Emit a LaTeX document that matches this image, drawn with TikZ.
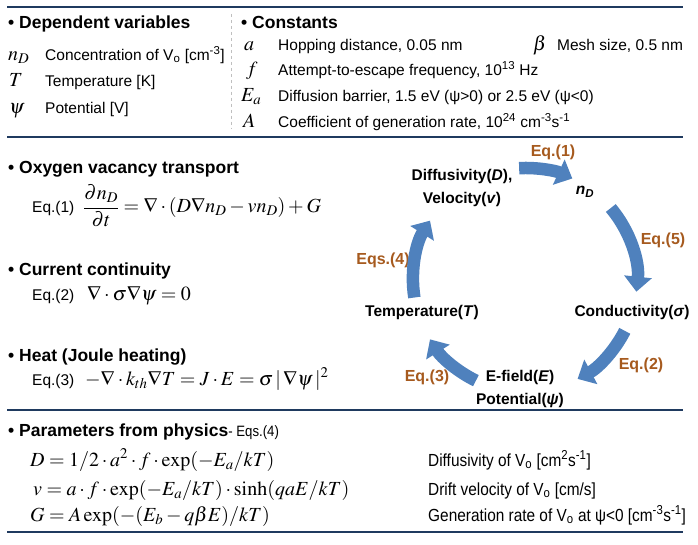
\documentclass[tikz,border=0pt]{standalone}
\usepackage{mathptmx}
\usepackage[no-math]{fontspec}
\setmainfont{Liberation Sans}
\newfontfamily\narrowfont[FakeStretch=0.88]{Liberation Sans}
\usetikzlibrary{arrows.meta}
\definecolor{rulenavy}{HTML}{1F3A5F}
\definecolor{cycleblue}{HTML}{4F81BD}
\definecolor{eqorange}{HTML}{A65A1E}
\definecolor{dashgray}{HTML}{BFBFBF}
\tikzset{
  sechead/.style={anchor=base west, inner sep=0, font=\fontsize{17.5bp}{20bp}\selectfont\bfseries},
  txt/.style={anchor=base west, inner sep=0, font=\fontsize{15.5bp}{18bp}\selectfont},
  mth/.style={anchor=base west, inner sep=0, font=\fontsize{20bp}{22bp}\selectfont},
  nartxt/.style={anchor=base west, inner sep=0, font=\fontsize{17.5bp}{20bp}\selectfont\narrowfont},
  qty/.style={align=center, inner sep=0, font=\fontsize{15.5bp}{23bp}\selectfont\bfseries},
  eqlabel/.style={inner sep=0, text=eqorange, font=\fontsize{16bp}{18bp}\selectfont\bfseries},
  loop arrow/.style={cycleblue, line width=12.5bp, -{Triangle[length=15bp,width=27bp]}},
  hrule/.style={rulenavy, line width=2bp},
}
\begin{document}
\begin{tikzpicture}[x=1bp, y=-1bp]
\useasboundingbox (0,0) rectangle (698,545);

\draw[hrule] (7,7) -- (683,7);
\draw[hrule] (7,137) -- (683,137);
\draw[hrule] (7,410) -- (683,410);
\draw[hrule] (7,532) -- (683,532);
\draw[dashgray, dashed, line width=1bp] (231,14) -- (231,128);

\node[sechead] (depvars) at (8,29) {• Dependent variables};
\node[mth] (nDsym) at (8,60.5) {$n_D$};
\node[txt] (nDtxt) at (45,60.5) {Concentration of V\textsubscript{o} [cm\textsuperscript{-3}]};
\node[mth] (Tsym) at (9,86.5) {$T$};
\node[txt] (Ttxt) at (45,86.5) {Temperature [K]};
\node[mth] (psisym) at (9,113.5) {$\psi$};
\node[txt] (psitxt) at (45,113.5) {Potential [V]};

\node[sechead] (consts) at (241,29) {• Constants};
\node[mth] (asym) at (244,50.5) {$a$};
\node[txt] (atxt) at (278,50.5) {Hopping distance, 0.05 nm};
\node[mth] (betasym) at (533,50.5) {$\beta$};
\node[txt] (betatxt) at (557,50.5) {Mesh size, 0.5 nm};
\node[mth] (fsym) at (246,75.5) {$f$};
\node[txt] (ftxt) at (278,75.5) {Attempt-to-escape frequency, 10\textsuperscript{13} Hz};
\node[mth] (Easym) at (241,101.5) {$E_a$};
\node[txt] (Eatxt) at (278,101.5) {Diffusion barrier, 1.5 eV (ψ>0) or 2.5 eV (ψ<0)};
\node[mth] (Asym) at (243,127.5) {$A$};
\node[txt] (Atxt) at (278,127.5) {Coefficient of generation rate, 10\textsuperscript{24} cm\textsuperscript{-3}s\textsuperscript{-1}};

\node[sechead] (transp) at (8,174) {• Oxygen vacancy transport};
\node[txt] (eq1lbl) at (32,213) {Eq.(1)};
\node[mth] (eq1) at (83,213) {$\displaystyle\frac{\partial n_D}{\partial t}=\nabla\cdot(D\nabla n_D-vn_D)+G$};
\node[sechead] (contin) at (8,276) {• Current continuity};
\node[txt] (eq2lbl) at (32,300) {Eq.(2)};
\node[mth] (eq2) at (87,300) {$\nabla\cdot\sigma\nabla\psi=0$};
\node[sechead] (heat) at (8,361) {• Heat (Joule heating)};
\node[txt] (eq3lbl) at (32,385) {Eq.(3)};
\node[mth] (eq3) at (85,385) {$-\nabla\cdot k_{th}\nabla T=J\cdot E=\sigma\,|\,\nabla\psi\,|^2$};

\node[sechead] (params) at (8,436) {• Parameters from physics{\mdseries\narrowfont\fontsize{15bp}{18bp}\selectfont- Eqs.(4)}};
\node[mth] (Deq) at (30,466) {$D=1/2\cdot a^2\cdot f\cdot\exp(-E_a/kT)$};
\node[mth] (veq) at (33,495) {$v=a\cdot f\cdot\exp(-E_a/kT)\cdot\sinh(qaE/kT)$};
\node[mth] (Geq) at (30,521) {$G=A\exp(-(E_b-q\beta E)/kT)$};
\node[nartxt] (Dtxt) at (428,466) {Diffusivity of V\textsubscript{o} [cm\textsuperscript{2}s\textsuperscript{-1}]};
\node[nartxt] (vtxt) at (428,495) {Drift velocity of V\textsubscript{o} [cm/s]};
\node[nartxt] (Gtxt) at (428,521) {Generation rate of V\textsubscript{o} at ψ<0 [cm\textsuperscript{-3}s\textsuperscript{-1}]};

\node[qty] (diffu) at (462,188) {Diffusivity(\textit{D}),\\Velocity(\textit{v})};
\node[qty] (nD) at (585,192) {\textit{n}\textsubscript{\textit{D}}};
\node[qty] (cond) at (632,312) {Conductivity(\textit{σ})};
\node[qty] (efield) at (520,389) {E-field(\textit{E})\\Potential(\textit{ψ})};
\node[qty] (temp) at (422,312) {Temperature(\textit{T})};

\node[eqlabel] (lbl1) at (553,152) {Eq.(1)};
\node[eqlabel] (lbl5) at (663,240) {Eq.(5)};
\node[eqlabel] (lbl2) at (641,365) {Eq.(2)};
\node[eqlabel] (lbl3) at (427,377) {Eq.(3)};
\node[eqlabel] (lbl4) at (383,260) {Eqs.(4)};

\coordinate (hub) at (525,280);
\path (hub) ++(-93:112) coordinate (a1);
\path (hub) ++(-40:112) coordinate (a5);
\path (hub) ++(27:112) coordinate (a2);
\path (hub) ++(116:112) coordinate (a3);
\path (hub) ++(171:112) coordinate (a4);
\draw[loop arrow] (a1) arc[start angle=-93, end angle=-65, radius=112];
\draw[loop arrow] (a5) arc[start angle=-40, end angle=6, radius=112];
\draw[loop arrow] (a2) arc[start angle=27, end angle=62, radius=112];
\draw[loop arrow] (a3) arc[start angle=116, end angle=148, radius=112];
\draw[loop arrow] (a4) arc[start angle=171, end angle=212, radius=112];
\end{tikzpicture}
\end{document}
